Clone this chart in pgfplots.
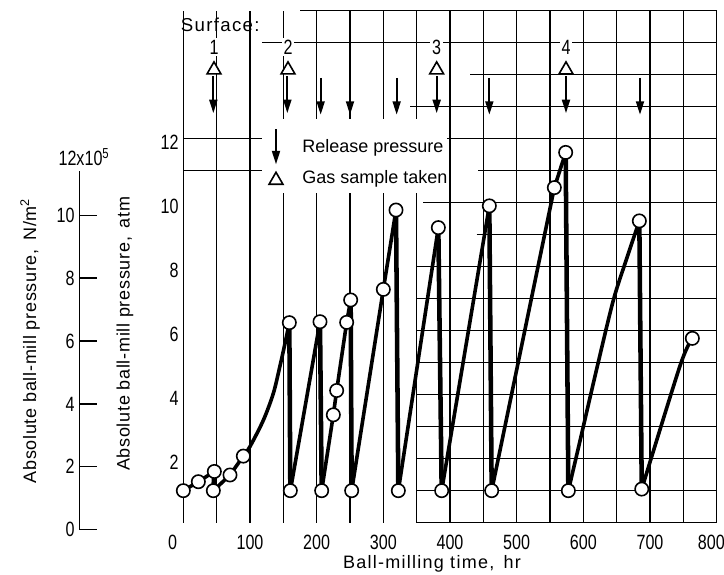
\documentclass[border=0pt]{standalone}
\usepackage{fontspec}
\setmainfont{Liberation Sans}
\newfontfamily\narrowfont{Liberation Sans}[FakeStretch=0.78]
\newfontfamily\spaced{Liberation Sans}[LetterSpace=7]
\newfontfamily\lspaced{Liberation Sans}[LetterSpace=4]
\usepackage{pgfplots}
\pgfplotsset{compat=1.18}
\usetikzlibrary{arrows.meta}

\newcommand\lbl{\fontsize{13.5}{16}\selectfont}
\newcommand\tk{\narrowfont\fontsize{15.5}{16}\selectfont}

\tikzset{gridl/.style={black, line width=1.15pt}}
\pgfplotsset{
  dl/.style={black, line width=2.7pt, no marks},
  drop/.style={black, line width=3.4pt, no marks},
}

\begin{document}
\begin{tikzpicture}
\useasboundingbox (-137.5pt,-39.2pt) rectangle (405.5pt,392pt);

% second scale, N/m^2 (x10^5)
\begin{axis}[
  at={(-78pt,-5.2pt)}, anchor=south west,
  scale only axis, width=10pt, height=282.8pt,
  xmin=0, xmax=1, ymin=0, ymax=12,
  axis x line=none, axis y line*=left,
  y axis line style={draw=none},
  ytick={0,2,...,10},
  tick align=inside, major tick length=13.5pt,
  tick style={black, line width=1.1pt},
  yticklabel style={font=\tk},
  /pgf/number format/assume math mode=true,
  clip=false,
]
\draw[line width=1.2pt] (axis cs:0,0) -- (axis cs:0,11.4);
\node[font=\tk, xshift=3.5pt] at (axis cs:0,11.86) {12x10\textsuperscript{5}};
\end{axis}

\begin{axis}[
  at={(0,0)}, anchor=south west,
  scale only axis, width=400pt, height=384pt,
  xmin=0, xmax=800, ymin=0, ymax=16,
  axis line style={draw=none},
  major tick length=0pt,
  xtick={100,200,300,400,500,600,700,792},
  xticklabels={100,200,300,400,500,600,700,800},
  ytick={2,4,...,12},
  xticklabel style={font=\tk, yshift=-6pt},
  yticklabel style={font=\tk, yshift=-3pt},
  /pgf/number format/assume math mode=true,
  clip=false,
]
% graph paper
\pgfplotsinvokeforeach{0,50,...,800}{\draw[gridl] (axis cs:#1,0) -- (axis cs:#1,16);}
\pgfplotsinvokeforeach{0,...,8}{\draw[gridl] (axis cs:350,#1) -- (axis cs:800,#1);}
\draw[gridl] (axis cs:440,9) -- (axis cs:800,9);
\draw[gridl] (axis cs:360,10) -- (axis cs:800,10);
\draw[gridl] (axis cs:442,11) -- (axis cs:800,11);
\draw[gridl] (axis cs:395,12) -- (axis cs:800,12);
\draw[gridl] (axis cs:0,11) -- (axis cs:118,11);
\draw[gridl] (axis cs:0,12) -- (axis cs:118,12);
\draw[gridl] (axis cs:340,13) -- (axis cs:800,13);
\draw[gridl] (axis cs:430,14) -- (axis cs:800,14);
\draw[gridl] (axis cs:118,15) -- (axis cs:800,15);
\draw[gridl] (axis cs:175,16) -- (axis cs:800,16);
% key area
\fill[white] (axis cs:120,10.3) rectangle (axis cs:395,12.6);

% pressure history
\addplot[dl] coordinates {(0,1.0)(22.5,1.28)(46.5,1.6)};
\addplot[drop] coordinates {(46.5,1.6)(45,1.0)};
\addplot[dl] coordinates {(45,1.0)(70,1.49)(90,2.08)};
\addplot[dl, smooth] coordinates {(90,2.08)(100,2.38)(120,3.2)(135,4.04)(145,4.9)(152.5,5.6)(159,6.25)};
\addplot[drop] coordinates {(159,6.25)(160.5,1.0)};
\addplot[dl] coordinates {(160.5,1.0)(205,6.28)};
\addplot[drop] coordinates {(205,6.28)(207.5,1.0)};
\addplot[dl] coordinates {(207.5,1.0)(225,3.37)(230,4.13)(245,6.26)(251,6.96)};
\addplot[drop] coordinates {(251,6.96)(252.5,1.0)};
\addplot[dl] coordinates {(252.5,1.0)(300,7.29)(319,9.77)};
\addplot[drop] coordinates {(319,9.77)(322.5,1.0)};
\addplot[dl] coordinates {(322.5,1.0)(382.5,9.22)};
\addplot[drop] coordinates {(382.5,9.22)(387.5,1.0)};
\addplot[dl] coordinates {(387.5,1.0)(459,9.9)};
\addplot[drop] coordinates {(459,9.9)(462.5,1.0)};
\addplot[dl] coordinates {(462.5,1.0)(556.5,10.47)(573.5,11.57)};
\addplot[drop] coordinates {(573.5,11.57)(577.5,1.0)};
\addplot[dl, smooth] coordinates {(577.5,1.0)(595.5,2.6)(620,4.8)(645,6.95)(665,8.25)(684,9.43)};
\addplot[drop] coordinates {(684,9.43)(687.6,1.05)};
\addplot[dl, smooth] coordinates {(687.6,1.05)(745,4.9)(763.5,5.76)};

\addplot[only marks, mark=*, mark size=5pt,
  mark options={fill=white, draw=black, line width=1.2pt}] coordinates {
  (0,1.0)(22.5,1.28)(46.5,1.6)(45,1.0)(70,1.49)(90,2.08)
  (159,6.25)(160.5,1.0)(205,6.28)(207.5,1.0)(225,3.37)(230,4.13)
  (245,6.26)(251,6.96)(252.5,1.0)(300,7.29)(319,9.77)(322.5,1.0)
  (382.5,9.22)(387.5,1.0)(459,9.9)(462.5,1.0)(556.5,10.47)(573.5,11.57)
  (577.5,1.0)(684,9.43)(687.6,1.05)(763.5,5.76)};

% release pressure arrows and gas samples
\addplot[black, line width=1.3pt, no marks, quiver={u=0,v=-1.15},
  -{Triangle[length=10pt,width=6pt]}] coordinates {
  (45,13.95)(156,13.95)(206,13.9)(250,13.9)(320,13.9)
  (380,13.95)(459,13.9)(574,13.95)(685,13.9)};
\addplot[black, line width=1.3pt, no marks, quiver={u=0,v=-1.1},
  -{Triangle[length=10pt,width=6pt]}] coordinates {(139,12.3)};
\addplot[only marks, mark=triangle*, mark size=6pt,
  mark options={fill=white, draw=black, line width=1.2pt}] coordinates {
  (46,14.15)(157,14.15)(380,14.15)(574,14.15)(139,10.7)};

\node[font=\lbl, anchor=west, inner sep=0pt] at (axis cs:178,11.72) {Release pressure};
\node[font=\lbl, anchor=west, inner sep=0pt] at (axis cs:178,10.73) {Gas sample taken};

\node[font=\spaced\fontsize{14}{16}\selectfont, anchor=west, inner sep=0pt] at (axis cs:-4,15.55) {Surface:};
\node[font=\tk, fill=white, inner sep=1.5pt] at (axis cs:46,14.86) {1};
\node[font=\tk, fill=white, inner sep=1.5pt] at (axis cs:157,14.86) {2};
\node[font=\tk, fill=white, inner sep=1.5pt] at (axis cs:380,14.86) {3};
\node[font=\tk, fill=white, inner sep=1.5pt] at (axis cs:574,14.86) {4};

\node[font=\tk, anchor=north, yshift=-6pt] at (axis cs:-16,0) {0};
\node[font=\spaced\lbl] at (axis cs:373,-1.3) {Ball-milling time,\, hr};
\node[font=\lspaced\lbl, rotate=90] at (axis cs:-87.5,5.9) {Absolute ball-mill pressure,\, atm};
\node[font=\lspaced\lbl, rotate=90] at (axis cs:-230,5.68) {Absolute ball-mill pressure,\, N/m\textsuperscript{2}};
\end{axis}
\end{tikzpicture}
\end{document}
